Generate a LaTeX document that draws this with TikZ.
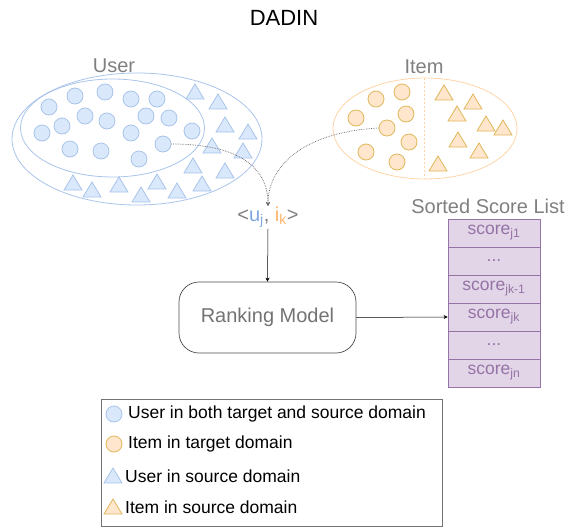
\documentclass[tikz,border=0pt]{standalone}
\usepackage{fontspec}
\setmainfont{Liberation Sans}
\usetikzlibrary{arrows.meta}

\definecolor{ublue}{HTML}{DAE8FC}
\definecolor{utext}{HTML}{7EA6E0}
\definecolor{uring}{HTML}{A9C4EB}
\definecolor{iorange}{HTML}{FFE6CC}
\definecolor{iorangedraw}{HTML}{E0B75A}
\definecolor{iring}{HTML}{FFD4A8}
\definecolor{itext}{HTML}{FFB366}
\definecolor{slfill}{HTML}{E1D5E7}
\definecolor{sldraw}{HTML}{9673A6}
\definecolor{labelgray}{HTML}{808080}

\tikzset{
  ucirc/.style={circle, fill=ublue, draw=uring, line width=0.8pt, minimum size=16pt, inner sep=0pt},
  icirc/.style={circle, fill=iorange, draw=iorangedraw, line width=0.8pt, minimum size=16pt, inner sep=0pt},
  utri/.style={fill=ublue, draw=uring, line width=0.8pt},
  itri/.style={fill=iorange, draw=iorangedraw, line width=0.8pt},
  grouplabel/.style={text=labelgray, font=\fontsize{20}{24}\selectfont},
  scorecell/.style={rectangle, fill=slfill, draw=sldraw, line width=0.8pt, minimum width=92pt, minimum height=28pt, inner sep=0pt, text=sldraw, font=\fontsize{17.5}{20}\selectfont},
  legendtext/.style={anchor=west, inner sep=0pt, font=\fontsize{17.5}{20}\selectfont},
}

% small triangle centred at the given point
\newcommand\tri[2]{\draw[#1] (#2) ++(-9,7) -- ++(18,0) -- ++(-9,-15) -- cycle;}

\begin{document}
\begin{tikzpicture}[x=1pt, y=-1pt]
\useasboundingbox (0,0) rectangle (568,528);

\node[font=\fontsize{22}{26}\selectfont] (title) at (284,18) {DADIN};

% user side
\node[grouplabel] (userlbl) at (114,66) {User};
\draw[uring, line width=0.8pt] (137,139) ellipse [x radius=125, y radius=66];
\draw[uring, line width=0.8pt] (112.5,128) ellipse [x radius=92, y radius=49];
\foreach \p in {(49,107),(75,96),(105,92),(131,99),(157,99),(85,116),(107,121),(146,116),(169,118),
                (42,133),(62,126),(131,133),(192,131),(70,149),(101,151),(139,159)}
  \node[ucirc] at \p {};
\node[ucirc] (uj) at (163,144) {};
\foreach \x/\y in {195/92,218/102,225/125,248/132,212/146,243/151,193/166,225/171,
                   73/183,92/190,119/185,157/182,141/195,177/191,202/184}
  {\tri{utri}{\x,\y}}

% item side
\node[grouplabel] (itemlbl) at (424,67) {Item};
\draw[iring, line width=0.8pt] (425,128.5) ellipse [x radius=92, y radius=50.5];
\draw[iring, line width=0.8pt, dash pattern=on 2pt off 2pt] (424,78) -- (424,179);
\foreach \p in {(376,99),(402,92),(356,118),(406,114),(409,142),(366,152),(397,162)}
  \node[icirc] at \p {};
\node[icirc] (ik) at (387,128) {};
\foreach \x/\y in {444/93,473/102,457/114,486/124,503/128,458/140,479/151,438/164}
  {\tri{itri}{\x,\y}}

% selected pair
\node[anchor=north, inner sep=1pt, text=labelgray, font=\fontsize{20}{24}\selectfont] (pair) at (268,206)
  {<\textcolor{utext}{u\textsubscript{j}}, \textcolor{itext}{i\textsubscript{k}}>};
\draw[densely dotted, black!60, line width=0.7pt, -{Stealth[length=4pt, width=4pt]}]
  (uj.east) .. controls (240,144) and (268,168) .. (pair.north);
\draw[densely dotted, black!60, line width=0.7pt, -{Stealth[length=4pt, width=4pt]}]
  (ik.west) .. controls (305,132) and (268,165) .. (pair.north);

% ranking model
\node[draw=black!70, rounded corners=20pt, line width=0.7pt, minimum width=177pt, minimum height=71pt,
      text=black!55, font=\fontsize{20}{24}\selectfont] (rank) at (267.5,317.5) {Ranking Model};
\draw[-{Stealth[length=4pt, width=4pt]}, line width=0.5pt] (pair.south) -- (rank.north);

% sorted score list
\node[grouplabel] (listlbl) at (488,206) {Sorted Score List};
\node[scorecell] (s1) at (494,233) {score\textsubscript{j1}};
\node[scorecell] (s2) at (494,261) {...};
\node[scorecell] (s3) at (494,289) {score\textsubscript{jk-1}};
\node[scorecell] (s4) at (494,317) {score\textsubscript{jk}};
\node[scorecell] (s5) at (494,345) {...};
\node[scorecell] (s6) at (494,373) {score\textsubscript{jn}};
\draw[-{Stealth[length=4pt, width=4pt]}, line width=0.5pt] (rank.east) -- (s4.west);

% legend
\draw[black!55, line width=0.8pt] (101,399) rectangle (442,526);
\node[ucirc] (lg1) at (114,414) {};
\node[icirc] (lg2) at (114,444) {};
\tri{utri}{113,476}
\tri{itri}{113,507}
\node[legendtext] (lt1) at (128,414) {User in both target and source domain};
\node[legendtext] (lt2) at (128,444) {Item in target domain};
\node[legendtext] (lt3) at (125,476) {User in source domain};
\node[legendtext] (lt4) at (125,507) {Item in source domain};
\end{tikzpicture}
\end{document}
